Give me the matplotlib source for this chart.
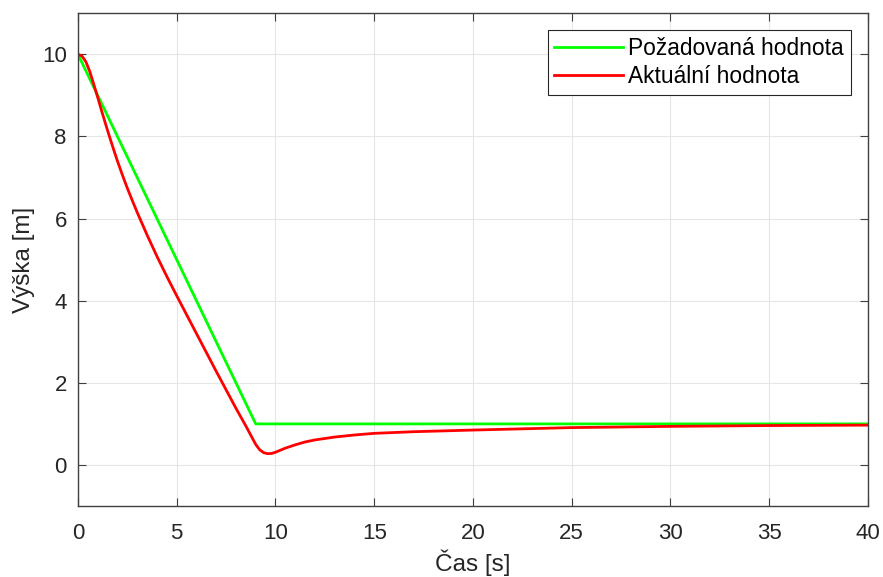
import matplotlib
matplotlib.use('Agg')
import matplotlib.pyplot as plt

# desired height (reference)
t_ref = [0, 9, 40]
h_ref = [10, 1, 1]

t_act = [0, 0.2, 0.4, 0.6, 0.8, 1.0, 1.2, 1.4, 1.6, 1.8, 2.0, 2.25, 2.5,
         2.75, 3.0, 3.5, 4.0, 4.5, 5.0, 6.0, 7.0, 8.0, 8.5, 8.8, 9.0, 9.2,
         9.4, 9.6, 9.8, 10.0, 10.5, 11, 11.5, 12, 13, 14, 15, 17, 20, 25,
         30, 35, 40]
h_act = [10, 9.96, 9.82, 9.58, 9.27, 8.95, 8.62, 8.30, 7.99, 7.69, 7.40,
         7.06, 6.74, 6.44, 6.15, 5.60, 5.08, 4.59, 4.12, 3.20, 2.28, 1.38,
         0.95, 0.68, 0.50, 0.37, 0.30, 0.275, 0.28, 0.31, 0.41, 0.49, 0.56,
         0.61, 0.68, 0.73, 0.77, 0.81, 0.85, 0.91, 0.94, 0.96, 0.97]

plt.rcParams['font.family'] = ['Liberation Sans', 'DejaVu Sans']

fig = plt.figure(figsize=(8.83, 5.77), dpi=100)
ax = fig.add_axes([0.0883, 0.123, 0.8947, 0.854])

ax.plot(t_ref, h_ref, color='#00ff00', lw=2.0, label='Požadovaná hodnota')
ax.plot(t_act, h_act, color='#ff0000', lw=2.0, label='Aktuální hodnota')

ax.set_xlim(0, 40)
ax.set_ylim(-1, 11)
ax.set_xticks(range(0, 41, 5))
ax.set_yticks(range(0, 11, 2))
ax.grid(True, color='#e6e6e6', lw=0.8)
ax.set_axisbelow(True)

ax.tick_params(direction='in', top=True, right=True, length=5.8,
               color='#404040', labelsize=16, labelcolor='#262626')
ax.tick_params(axis='x', pad=12)
ax.tick_params(axis='y', pad=8)
for s in ax.spines.values():
    s.set_color('#404040')
    s.set_linewidth(1.0)

ax.set_xlabel('Čas [s]', fontsize=17.5, color='#262626', labelpad=4)
ax.set_ylabel('Výška [m]', fontsize=17.5, color='#262626', labelpad=5)

leg = ax.legend(loc='upper right', fontsize=16.4, fancybox=False,
                framealpha=1, edgecolor='#262626', handlelength=3.0,
                handletextpad=0.25, borderpad=0.3, labelspacing=0.2,
                borderaxespad=0.75)
leg.get_frame().set_linewidth(0.8)

plt.savefig('out.png', dpi=100)
